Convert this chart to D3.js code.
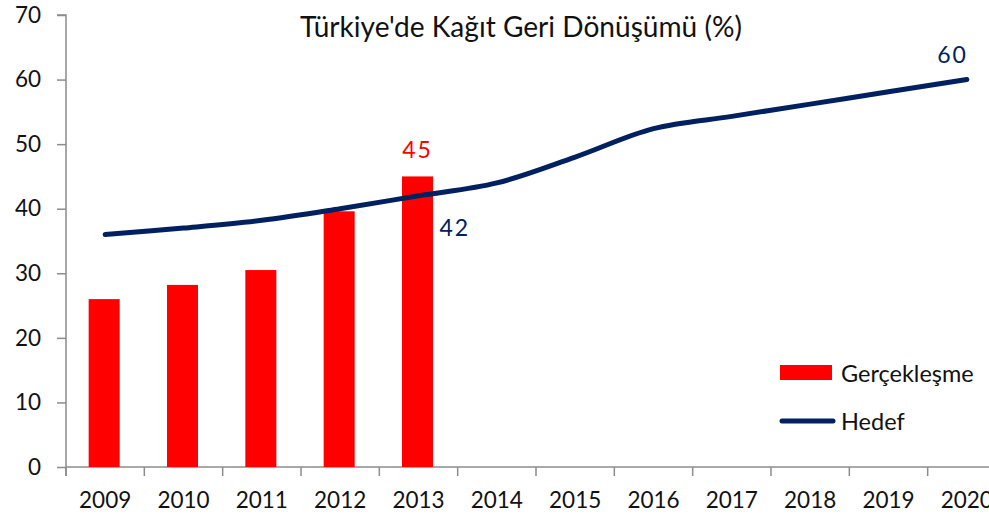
<!DOCTYPE html>
<html>
<head>
<meta charset="utf-8">
<script src="https://cdn.jsdelivr.net/npm/d3@7"></script>
<style>
  body { margin: 0; background: #fff; }
  text { font-family: Lato, "Open Sans", sans-serif; fill: #111; }
</style>
</head>
<body>
<div id="chart"></div>
<script>
// data
let years = ['2009', '2010', '2011', '2012', '2013', '2014', '2015', '2016', '2017', '2018', '2019', '2020'];
let barYears = ['2009', '2010', '2011', '2012', '2013'];
let actual = [26, 28.2, 30.5, 39.6, 45];
let target = [36, 37, 38.2, 40, 42, 44, 48, 52.4, 54.3, 56.2, 58.1, 60];
let yTicks = [0, 10, 20, 30, 40, 50, 60, 70];

let svgWidth = 989;
let svgHeight = 518;

let svg = d3.select('#chart')
  .append('svg')
  .attr('width', svgWidth)
  .attr('height', svgHeight);

// scales
let x = d3.scaleBand()
  .domain(years)
  .range([66, 1006]);

let y = d3.scaleLinear()
  .domain([0, 70])
  .range([467, 15]);

// title
svg.append('text')
  .attr('x', 521)
  .attr('y', 37)
  .attr('text-anchor', 'middle')
  .attr('font-size', '28px')
  .attr('textLength', 442)
  .attr('lengthAdjust', 'spacingAndGlyphs')
  .text("Türkiye'de Kağıt Geri Dönüşümü (%)");

// y axis
let yAxis = svg.append('g')
  .attr('transform', 'translate(66,0)')
  .call(d3.axisLeft(y).tickValues(yTicks).tickSize(9).tickPadding(16));
yAxis.selectAll('line, path').attr('stroke', '#8c8c8c').attr('stroke-width', 1.5);
yAxis.selectAll('text').attr('font-size', '22.5px').attr('font-family', 'Lato').attr('fill', '#111');
yAxis.select('.domain').attr('d', 'M-9,15H0V476');

// x axis
let xAxis = svg.append('g')
  .attr('transform', 'translate(0,467)');
xAxis.append('line')
  .attr('x1', 66).attr('x2', 1006)
  .attr('stroke', '#8c8c8c').attr('stroke-width', 1.5);
xAxis.selectAll('.tick')
  .data(years.concat(['end']))
  .enter()
  .append('line')
  .attr('x1', (d, i) => 66 + i * x.step())
  .attr('x2', (d, i) => 66 + i * x.step())
  .attr('y1', 0)
  .attr('y2', 9)
  .attr('stroke', '#8c8c8c').attr('stroke-width', 1.5);
xAxis.selectAll('.xlabel')
  .data(years)
  .enter()
  .append('text')
  .attr('x', d => x(d) + x.bandwidth() / 2)
  .attr('y', 41)
  .attr('text-anchor', 'middle')
  .attr('font-size', '22.5px')
  .text(d => d);

// bars
let barWidth = 31;
svg.selectAll('.bar')
  .data(barYears)
  .enter()
  .append('rect')
  .attr('x', d => x(d) + x.bandwidth() / 2 - barWidth / 2 - 1)
  .attr('y', (d, i) => y(actual[i]))
  .attr('width', barWidth)
  .attr('height', (d, i) => y(0) - y(actual[i]))
  .attr('fill', '#ff0000');

// target line
let line = d3.line()
  .x((d, i) => x(years[i]) + x.bandwidth() / 2)
  .y(d => y(d))
  .curve(d3.curveCatmullRom);

svg.append('path')
  .datum(target)
  .attr('d', line)
  .attr('fill', 'none')
  .attr('stroke', '#002060')
  .attr('stroke-width', 5)
  .attr('stroke-linecap', 'round');

// value labels
svg.append('text')
  .attr('x', x('2013') + x.bandwidth() / 2 - 1)
  .attr('y', y(45) - 18)
  .attr('text-anchor', 'middle')
  .attr('font-size', '23px')
  .attr('letter-spacing', '2px')
  .style('fill', '#ff0000')
  .text(actual[4]);

svg.append('text')
  .attr('x', x('2013') + x.bandwidth() / 2 + 21)
  .attr('y', y(42) + 40)
  .attr('font-size', '23px')
  .attr('letter-spacing', '2px')
  .style('fill', '#002060')
  .text(target[4]);

svg.append('text')
  .attr('x', x('2020') + x.bandwidth() / 2 + 1)
  .attr('y', y(60) - 17)
  .attr('text-anchor', 'end')
  .attr('font-size', '23px')
  .attr('letter-spacing', '2px')
  .style('fill', '#002060')
  .text(target[11]);

// legend
let legend = svg.append('g');
legend.append('rect')
  .attr('x', 780).attr('y', 365)
  .attr('width', 52).attr('height', 15)
  .attr('fill', '#ff0000');
legend.append('text')
  .attr('x', 841).attr('y', 382)
  .attr('font-size', '23.5px')
  .text('Gerçekleşme');
legend.append('line')
  .attr('x1', 782).attr('x2', 833)
  .attr('y1', 421).attr('y2', 421)
  .attr('stroke', '#002060')
  .attr('stroke-width', 5)
  .attr('stroke-linecap', 'round');
legend.append('text')
  .attr('x', 841).attr('y', 430)
  .attr('font-size', '23.5px')
  .text('Hedef');
</script>
</body>
</html>
